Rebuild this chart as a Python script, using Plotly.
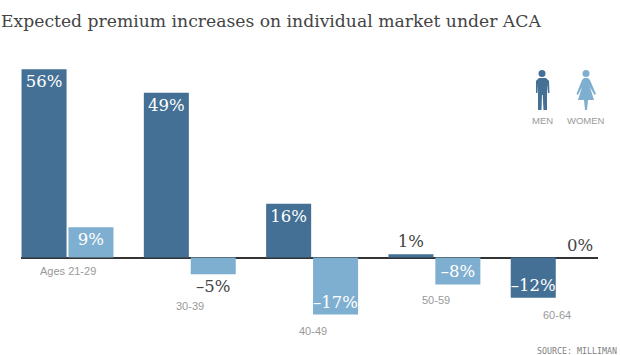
import plotly.graph_objects as go

W, H = 620, 355
categories = ["Ages 21-29", "30-39", "40-49", "50-59", "60-64"]
men = [56, 49, 16, 1, -12]
women = [9, -5, -17, -8, 0]
men_labels = ["56%", "49%", "16%", "1%", "–12%"]
women_labels = ["9%", "–5%", "–17%", "–8%", "0%"]
title = "Expected premium increases on individual market under ACA"
source = "SOURCE: MILLIMAN"

DARK, LIGHT = "#437094", "#7FAFD0"
SERIF = "DejaVu Serif"
SANS = "Liberation Sans"

L, R, T, B = 21, 598, 60, 335
ZERO, PX = 257.5, 3.36
PERIOD, C0 = 122.3, 67.5


def pos(vals):
    return ["inside" if abs(v) >= 8 else "outside" for v in vals]


def col(vals):
    return ["white" if abs(v) >= 8 else "#444444" for v in vals]


fig = go.Figure()
for name, vals, labels, color in [("Men", men, men_labels, DARK), ("Women", women, women_labels, LIGHT)]:
    fig.add_bar(
        x=categories, y=vals, name=name, text=labels, marker_color=color, marker_line_width=0,
        textposition=pos(vals), insidetextanchor="end", textangle=0, cliponaxis=False,
        textfont=dict(family=SERIF, size=16.5, color=col(vals)),
        constraintext="none", hoverinfo="skip",
    )


def px(x):
    return (x - L) / (R - L)


def py(y):
    return (B - y) / (B - T)


def path(pts):
    return "M " + " L ".join(f"{px(a):.4f},{py(b):.4f}" for a, b in pts) + " Z"


man = [(539, 78), (546, 78), (549, 81), (549.5, 93), (548, 93), (547, 84), (547, 110), (543.5, 110),
       (542.7, 95), (542, 95), (541.5, 110), (538, 110), (538, 84), (537.5, 93), (536, 93), (536, 81)]
woman = [(584, 78), (588, 78), (590, 80), (596, 94), (594.5, 95), (590, 87), (594, 100), (588, 100), (587, 110),
         (585, 110), (584, 100), (578, 100), (582, 87), (578, 95), (576.5, 94), (582, 80)]
shapes = [
    dict(type="path", xref="paper", yref="paper", path=path(man), fillcolor=DARK, line_width=0),
    dict(type="path", xref="paper", yref="paper", path=path(woman), fillcolor=LIGHT, line_width=0),
    dict(type="circle", xref="paper", yref="paper", x0=px(538.5), x1=px(545.5), y0=py(77), y1=py(70),
         fillcolor=DARK, line_width=0),
    dict(type="circle", xref="paper", yref="paper", x0=px(582.5), x1=px(589.5), y0=py(77), y1=py(70),
         fillcolor=LIGHT, line_width=0),
]

ann = []


def text(t, x, y, font, size, color, anchor="center"):
    ann.append(dict(text=t, xref="paper", yref="paper", x=px(x), y=py(y), showarrow=False, xanchor=anchor,
                    yanchor="middle", font=dict(family=font, size=size, color=color)))


text(title, -1, 21, SERIF, 17.2, "#444444", "left")
for c, cx, cy in zip(categories, [68, 190, 313, 436, 557], [271, 306, 331, 300, 315]):
    text(c, cx, cy, SANS, 11, "#999999")
text("MEN", 542, 120, SANS, 9.5, "#999999")
text("WOMEN", 586, 120, SANS, 9.5, "#999999")
text(source, 619, 351, "DejaVu Sans Mono", 8.3, "#808080", "right")

fig.update_layout(
    width=W, height=H, autosize=False, showlegend=False, barmode="group", bargap=0.233, bargroupgap=0.04,
    margin=dict(l=L, r=W - R, t=T, b=H - B, pad=0, autoexpand=False), paper_bgcolor="white", plot_bgcolor="white",
    shapes=shapes, annotations=ann,
    xaxis=dict(visible=False, range=[(L - C0) / PERIOD, (R - C0) / PERIOD]),
    yaxis=dict(range=[(ZERO - B) / PX, (ZERO - T) / PX], showgrid=False, showticklabels=False, ticks="",
               zeroline=True, zerolinecolor="#333333", zerolinewidth=1.5, showline=False),
)
fig.write_html("out.html", config=dict(displayModeBar=False),
               post_script="document.body.style.margin='0';document.body.style.overflow='hidden';")
